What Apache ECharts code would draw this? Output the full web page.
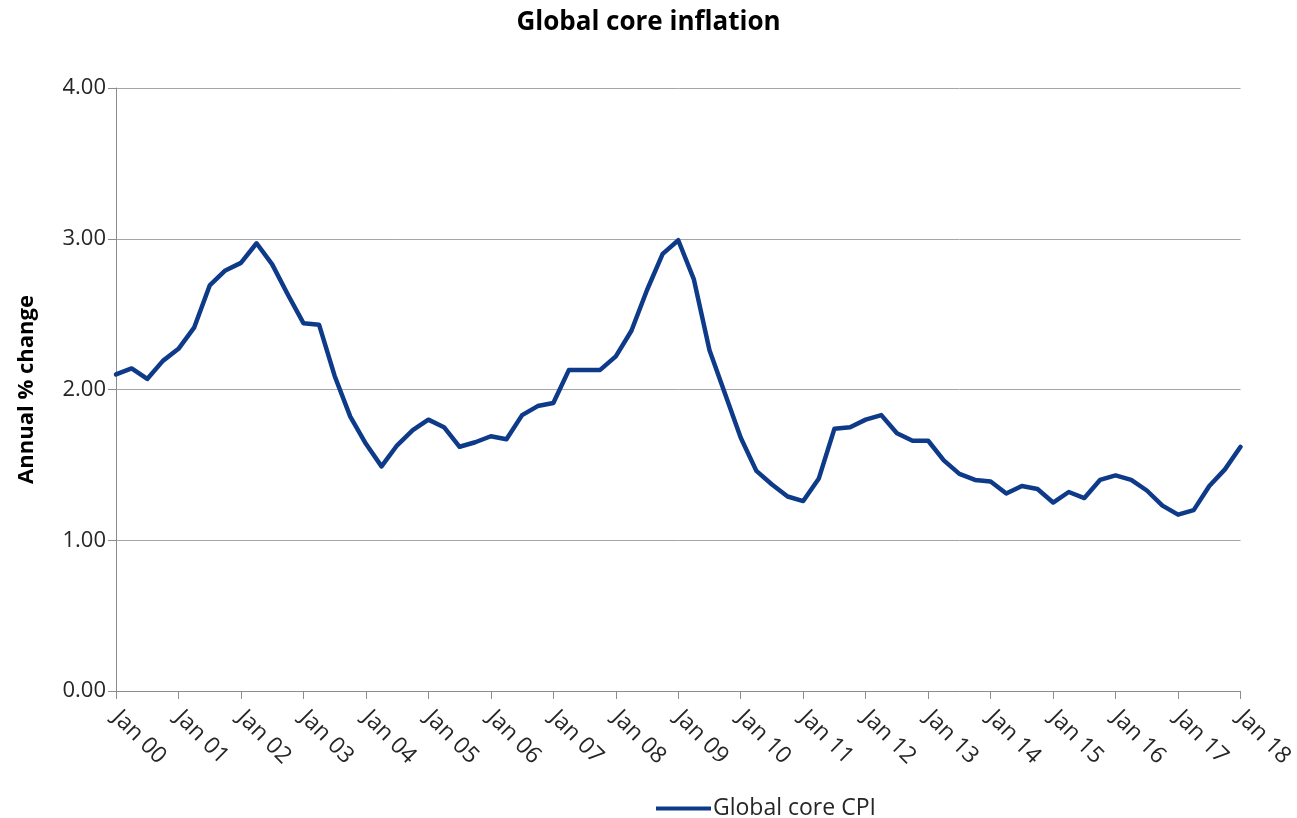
<!DOCTYPE html>
<html>
<head>
<meta charset="utf-8">
<title>Global core inflation</title>
<script src="https://cdn.jsdelivr.net/npm/echarts@6/dist/echarts.min.js"></script>
<style>
  html, body { margin: 0; padding: 0; background: #ffffff; }
  #chart { width: 1297px; height: 818px; }
</style>
</head>
<body>
<div id="chart"></div>
<script>
// Quarterly observations, Jan 2000 to Jan 2018
const years = ['00','01','02','03','04','05','06','07','08','09','10','11','12','13','14','15','16','17','18'];
const quarterMonths = ['Jan', 'Apr', 'Jul', 'Oct'];

// Global core CPI, annual % change
const coreCpi = [
  2.10, 2.14, 2.07, 2.19,
  2.27, 2.41, 2.69, 2.79,
  2.84, 2.97, 2.83, 2.63,
  2.44, 2.43, 2.09, 1.82,
  1.64, 1.49, 1.63, 1.73,
  1.80, 1.75, 1.62, 1.65,
  1.69, 1.67, 1.83, 1.89,
  1.91, 2.13, 2.13, 2.13,
  2.22, 2.39, 2.66, 2.90,
  2.99, 2.73, 2.26, 1.97,
  1.68, 1.46, 1.37, 1.29,
  1.26, 1.41, 1.74, 1.75,
  1.80, 1.83, 1.71, 1.66,
  1.66, 1.53, 1.44, 1.40,
  1.39, 1.31, 1.36, 1.34,
  1.25, 1.32, 1.28, 1.40,
  1.43, 1.40, 1.33, 1.23,
  1.17, 1.20, 1.36, 1.47,
  1.62
];

// Build the quarter labels ("Jan 00", "Apr 00", ... "Jan 18")
const categories = [];
years.forEach(function (y, i) {
  quarterMonths.forEach(function (m, q) {
    if (i < years.length - 1 || q === 0) categories.push(m + ' ' + y);
  });
});

const FONT = '"Open Sans", "Noto Sans", sans-serif';
const LINE_COLOR = '#0e3a8a';
const isYearStart = function (idx) { return idx % 4 === 0; };

const chart = echarts.init(document.getElementById('chart'), null, { renderer: 'canvas' });

chart.setOption({
  backgroundColor: '#ffffff',
  animation: false,
  title: {
    text: 'Global core inflation',
    left: 'center',
    top: 5,
    textStyle: { fontFamily: FONT, fontSize: 26, fontWeight: 'bold', color: '#000000' }
  },
  legend: {
    data: [{ name: 'Global core CPI', icon: 'rect' }],
    left: 651,
    top: 792,
    itemWidth: 55,
    itemHeight: 4,
    itemGap: 4,
    textStyle: { fontFamily: FONT, fontSize: 23, color: '#262626', padding: [0, 0, 0, -3] }
  },
  grid: { left: 116, right: 54, top: 88, bottom: 127, containLabel: false },
  xAxis: {
    type: 'category',
    data: categories,
    boundaryGap: false,
    axisLine: { lineStyle: { color: '#8c8c8c', width: 1 } },
    axisTick: {
      show: true,
      length: 8,
      interval: isYearStart,
      lineStyle: { color: '#8c8c8c' }
    },
    axisLabel: {
      interval: isYearStart,
      rotate: -45,
      margin: 23,
      fontFamily: FONT,
      fontSize: 23,
      color: '#262626'
    },
    splitLine: { show: false }
  },
  yAxis: {
    type: 'value',
    min: 0,
    max: 4,
    interval: 1,
    name: 'Annual % change',
    nameLocation: 'middle',
    nameRotate: 90,
    nameGap: 78,
    nameTextStyle: { fontFamily: FONT, fontSize: 22, fontWeight: 'bold', color: '#000000' },
    axisLine: { show: true, lineStyle: { color: '#8c8c8c', width: 1 } },
    axisTick: { show: true, length: 8, lineStyle: { color: '#8c8c8c' } },
    axisLabel: {
      margin: 10,
      fontFamily: FONT,
      fontSize: 22,
      color: '#262626',
      formatter: function (v) { return v.toFixed(2); }
    },
    splitLine: { show: true, lineStyle: { color: '#a6a6a6', width: 1 } }
  },
  series: [{
    name: 'Global core CPI',
    type: 'line',
    data: coreCpi,
    symbol: 'none',
    smooth: false,
    lineStyle: { color: LINE_COLOR, width: 4.5, join: 'round', cap: 'round' },
    itemStyle: { color: LINE_COLOR }
  }]
});
</script>
</body>
</html>
